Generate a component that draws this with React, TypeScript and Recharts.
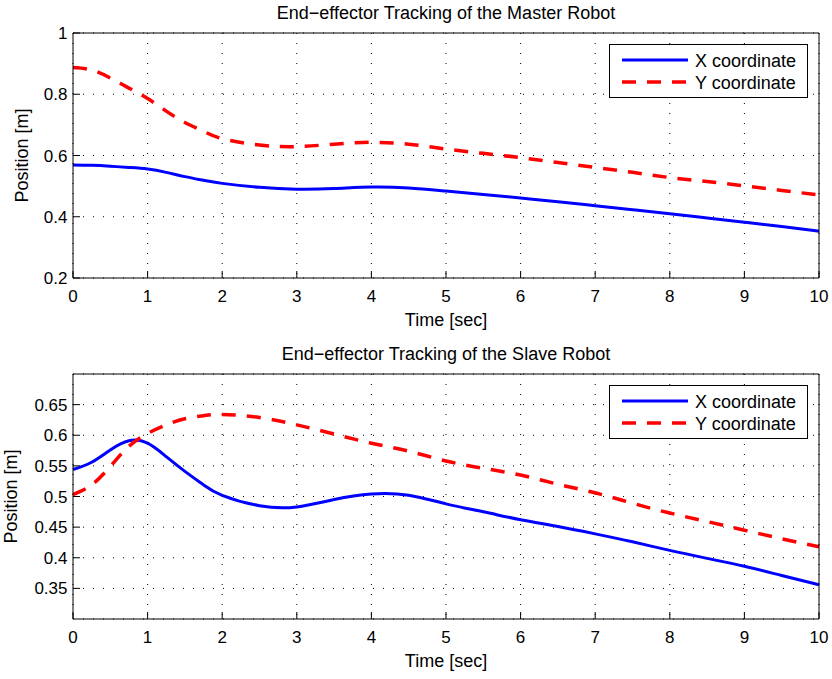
import { LineChart, Line, XAxis, YAxis, CartesianGrid, Legend } from "recharts";

// sample times (s)
const times = [0, 0.25, 0.5, 0.75, 1, 1.25, 1.5, 1.75, 2, 2.5, 3, 3.5, 4, 4.5, 5, 5.5, 6, 6.5, 7, 7.5, 8, 8.5, 9, 9.5, 10];

// master robot end-effector position (m)
const masterX = [0.569, 0.568, 0.565, 0.561, 0.556, 0.545, 0.531, 0.519, 0.509, 0.496, 0.49, 0.492, 0.497, 0.494, 0.484, 0.473, 0.461, 0.449, 0.436, 0.423, 0.41, 0.396, 0.382, 0.368, 0.353];
const masterY = [0.887, 0.879, 0.853, 0.82, 0.786, 0.745, 0.708, 0.679, 0.655, 0.634, 0.629, 0.637, 0.643, 0.637, 0.621, 0.607, 0.593, 0.577, 0.561, 0.545, 0.528, 0.515, 0.501, 0.486, 0.471];

// slave robot end-effector position (m)
const slaveX = [0.544, 0.556, 0.576, 0.591, 0.587, 0.565, 0.541, 0.519, 0.502, 0.485, 0.483, 0.495, 0.504, 0.502, 0.488, 0.475, 0.462, 0.451, 0.439, 0.426, 0.412, 0.399, 0.386, 0.371, 0.356];
const slaveY = [0.503, 0.519, 0.549, 0.582, 0.603, 0.617, 0.627, 0.632, 0.634, 0.629, 0.617, 0.602, 0.587, 0.574, 0.558, 0.546, 0.535, 0.52, 0.506, 0.489, 0.473, 0.459, 0.445, 0.431, 0.418];

const timeTicks = [0, 1, 2, 3, 4, 5, 6, 7, 8, 9, 10];
const masterTicks = [0.2, 0.4, 0.6, 0.8, 1];
const slaveTicks = [0.35, 0.4, 0.45, 0.5, 0.55, 0.6, 0.65];

const BLUE = "#0000ff";
const RED = "#ff0000";
const FONT = "'Liberation Sans', Arial, Helvetica, sans-serif";
const FS = 17;
const TICK = -7; // inward ticks, matlab style

type PanelProps = {
  title: string;
  xs: number[];
  ys: number[];
  domain: [number, number];
  yTicks: number[];
  height: number;
  ylabelX: number;
};

function LegendBox({ payload }: any) {
  const rows = payload || [];
  return (
    <svg width={199} height={54} style={{ display: "block" }}>
      <rect x={0.5} y={0.5} width={198} height={53} fill="#fff" stroke="#000" />
      {rows.map((entry: any, i: number) => {
        const cy = 16 + i * 22;
        return (
          <g key={entry.value}>
            <line
              x1={13}
              x2={79}
              y1={cy}
              y2={cy}
              stroke={entry.color}
              strokeWidth={i === 0 ? 3 : 3.5}
              strokeDasharray={entry.payload?.strokeDasharray}
            />
            <text x={86} y={cy + 6.5} fontSize={18} fill="#000" fontFamily={FONT}>
              {entry.value}
            </text>
          </g>
        );
      })}
    </svg>
  );
}

function Panel({ title, xs, ys, domain, yTicks, height, ylabelX }: PanelProps) {
  const rows = times.map((t, i) => ({ t, x: xs[i], y: ys[i] }));
  const xAxisH = 40;
  return (
    <LineChart
      width={832}
      height={height}
      data={rows}
      margin={{ top: 32, right: 12, left: 0, bottom: height - 278 - xAxisH }}
      style={{ fontFamily: FONT }}
    >
      <CartesianGrid stroke="#000" strokeDasharray="1 9" strokeWidth={1} />
      <XAxis
        dataKey="t"
        type="number"
        domain={[0, 10]}
        ticks={timeTicks}
        height={xAxisH}
        tickSize={TICK}
        tickMargin={19}
        axisLine={{ stroke: "#000" }}
        tickLine={{ stroke: "#000" }}
        tick={{ fill: "#000", fontSize: FS }}
        interval={0}
        label={{
          content: ({ viewBox }: any) => (
            <text
              x={viewBox.x + viewBox.width / 2}
              y={viewBox.y + 48}
              textAnchor="middle"
              fontSize={18}
              fill="#000"
            >
              Time [sec]
            </text>
          ),
        }}
      />
      {/* top edge of the box, inward ticks only */}
      <XAxis
        xAxisId="top"
        orientation="top"
        dataKey="t"
        type="number"
        domain={[0, 10]}
        ticks={timeTicks}
        height={1}
        tickSize={TICK}
        tick={false}
        axisLine={{ stroke: "#000" }}
        tickLine={{ stroke: "#000" }}
        interval={0}
        label={{
          content: ({ viewBox }: any) => (
            <text
              x={viewBox.x + viewBox.width / 2}
              y={viewBox.y + viewBox.height - 14.5}
              textAnchor="middle"
              fontSize={18}
              fill="#000"
            >
              {title}
            </text>
          ),
        }}
      />
      <YAxis
        type="number"
        domain={domain}
        ticks={yTicks}
        width={73}
        tickSize={TICK}
        tickMargin={12.5}
        axisLine={{ stroke: "#000" }}
        tickLine={{ stroke: "#000" }}
        tick={{ fill: "#000", fontSize: FS }}
        interval={0}
        allowDataOverflow
        label={{
          content: ({ viewBox }: any) => {
            const cx = viewBox.x + ylabelX;
            const cy = viewBox.y + viewBox.height / 2;
            return (
              <text
                x={cx}
                y={cy}
                transform={`rotate(-90 ${cx} ${cy})`}
                textAnchor="middle"
                fontSize={18}
                fill="#000"
              >
                Position [m]
              </text>
            );
          },
        }}
      />
      {/* right edge of the box */}
      <YAxis
        yAxisId="right"
        orientation="right"
        type="number"
        domain={domain}
        ticks={yTicks}
        width={1}
        tickSize={TICK}
        tick={false}
        axisLine={{ stroke: "#000" }}
        tickLine={{ stroke: "#000" }}
        interval={0}
        allowDataOverflow
      />
      <Legend
        layout="horizontal"
        verticalAlign="middle"
        align="center"
        content={<LegendBox />}
        wrapperStyle={{ position: "absolute", top: 44, left: 609, width: 199, height: 54 }}
      />
      <Line
        name="X coordinate"
        dataKey="x"
        type="natural"
        stroke={BLUE}
        strokeWidth={3}
        dot={false}
        isAnimationActive={false}
      />
      <Line
        name="Y coordinate"
        dataKey="y"
        type="natural"
        stroke={RED}
        strokeWidth={3.5}
        strokeDasharray="14 11"
        dot={false}
        isAnimationActive={false}
      />
    </LineChart>
  );
}

export default function App() {
  return (
    <div
      style={{
        position: "absolute",
        left: 0,
        top: 0,
        width: 832,
        height: 679,
        background: "#fff",
        overflow: "hidden",
        fontFamily: FONT,
      }}
    >
      <Panel
        title="End−effector Tracking of the Master Robot"
        xs={masterX}
        ys={masterY}
        domain={[0.2, 1]}
        yTicks={masterTicks}
        height={341}
        ylabelX={27.5}
      />
      <Panel
        title="End−effector Tracking of the Slave Robot"
        xs={slaveX}
        ys={slaveY}
        domain={[0.3, 0.7]}
        yTicks={slaveTicks}
        height={338}
        ylabelX={16.5}
      />
    </div>
  );
}
